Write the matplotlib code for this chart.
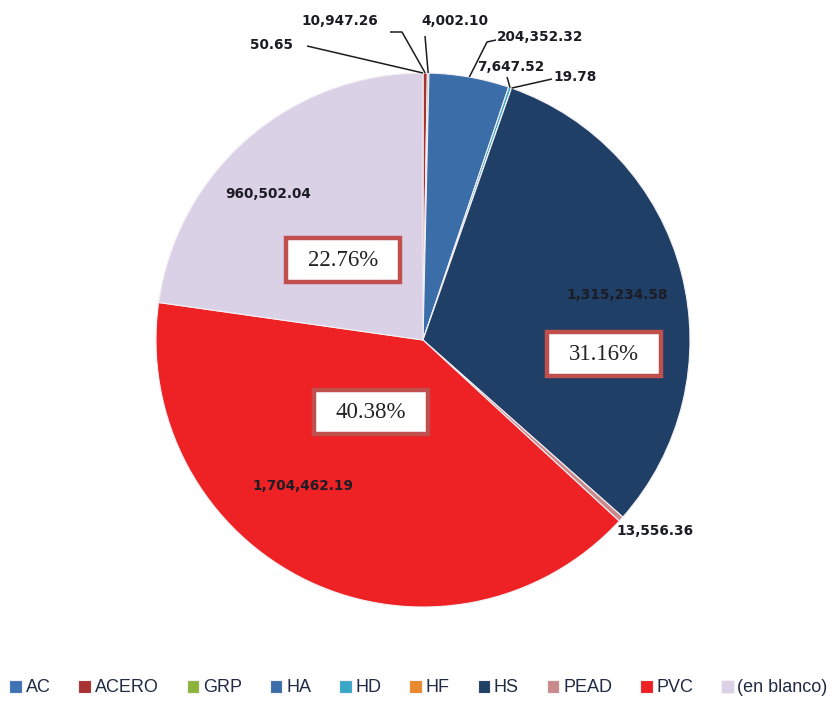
import numpy as np
import matplotlib.pyplot as plt
from matplotlib.patches import Rectangle

# data
materials = ['AC', 'ACERO', 'GRP', 'HA', 'HD', 'HF', 'HS', 'PEAD', 'PVC', '(en blanco)']
lengths = [50.65, 10947.26, 4002.10, 204352.32, 7647.52, 19.78,
           1315234.58, 13556.36, 1704462.19, 960502.04]
value_labels = ['50.65', '10,947.26', '4,002.10', '204,352.32', '7,647.52', '19.78',
                '1,315,234.58', '13,556.36', '1,704,462.19', '960,502.04']
pct_materials = ['(en blanco)', 'HS', 'PVC']
pct_labels = ['22.76%', '31.16%', '40.38%']

colors = ['#3f72b4', '#a83232', '#8cb43c', '#3b6ea9', '#3aa7c6', '#e8892e',
          '#1f3f66', '#c98a8c', '#ee2224', '#dad1e7']

# layout (pixels, y down)
W, H = 837, 704
CX, CY, R = 423, 340, 267
label_pos = {
    'AC': (272, 45), 'ACERO': (340, 21), 'GRP': (455, 21), 'HA': (540, 37),
    'HD': (511, 67), 'HF': (575, 77), 'HS': (617, 295), 'PEAD': (655, 531),
    'PVC': (303, 486), '(en blanco)': (268, 194),
}
leader_start = {
    'AC': [(307, 46)], 'ACERO': [(390, 32), (402, 32)], 'GRP': [(425, 36)],
    'HA': [(496, 40), (487, 42)], 'HD': [(507, 77)], 'HF': [(552, 79)],
}
box_pos = {'(en blanco)': (343, 260), 'HS': (604, 354), 'PVC': (371, 412)}

fig = plt.figure(figsize=(W / 100, H / 100), dpi=100)
fig.patch.set_facecolor('white')
ax = fig.add_axes([0, 0, 1, 1])

# y axis inverted, so counterclock in data = clockwise on screen
wedges, _ = ax.pie(lengths, colors=colors, startangle=-90, counterclock=True,
                   center=(CX, CY), radius=R,
                   wedgeprops=dict(edgecolor='#f4f0f4', linewidth=0.8))
ax.set_xlim(0, W)
ax.set_ylim(H, 0)
ax.set_aspect('equal')
ax.axis('off')

total = sum(lengths)
cum = np.cumsum([0] + lengths)
for i, m in enumerate(materials):
    frac_mid = (cum[i] + cum[i + 1]) / 2 / total
    ang = 2 * np.pi * frac_mid
    ax_pt = (CX + R * np.sin(ang), CY - R * np.cos(ang))
    tx, ty = label_pos[m]
    ax.text(tx, ty, value_labels[i], ha='center', va='center', fontsize=9.8,
            fontweight='bold', color='#1c1c24', family='DejaVu Sans')
    if m in leader_start:
        pts = leader_start[m] + [ax_pt]
        xs, ys = zip(*pts)
        ax.plot(xs, ys, color='#1c1c24', lw=1.1, solid_capstyle='butt')

for m, lab in zip(pct_materials, pct_labels):
    bx, by = box_pos[m]
    bw, bh = 114, 44
    ax.add_patch(Rectangle((bx - bw / 2, by - bh / 2), bw, bh, facecolor='white',
                           edgecolor='#c0504d', linewidth=3.2, zorder=5))
    ax.text(bx, by + 1, lab, ha='center', va='center', fontsize=16.5,
            family='Liberation Serif', color='#222222', zorder=6)

fig.legend(wedges, materials, loc='center', bbox_to_anchor=(0.5, 1 - 688 / H),
           ncol=10, frameon=False, handlelength=0.7, handleheight=0.7,
           handletextpad=0.2, columnspacing=1.55, borderaxespad=0,
           prop={'family': 'Liberation Sans', 'size': 13},
           labelcolor='#1f2a44')

fig.savefig('out.png', dpi=100, facecolor='white')
